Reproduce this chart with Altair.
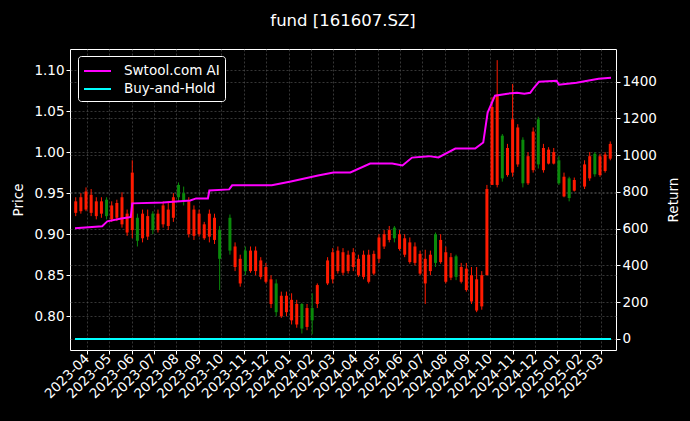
import altair as alt
import pandas as pd
import jinja2

# ---------------- data ----------------
week_start = "2023-03-17"   # weekly candles, Fridays
opens = [0.926, 0.928, 0.930, 0.926, 0.922, 0.925, 0.942, 0.918, 0.920, 0.912,
         0.902, 0.905, 0.920, 0.895, 0.897, 0.925, 0.905, 0.912, 0.910, 0.920,
         0.960, 0.950, 0.900, 0.898, 0.900, 0.895, 0.897, 0.893, 0.905, None,
         0.920, 0.860, 0.840, 0.880, 0.855, 0.855, 0.848, 0.842, 0.815, 0.840,
         0.800, 0.805, 0.795, 0.790, 0.815, 0.787, 0.810, 0.815, None, 0.840,
         0.845, 0.855, 0.853, 0.855, 0.860, 0.850, 0.848, 0.842, 0.852, 0.870,
         0.885, 0.893, 0.908, 0.882, 0.875, 0.866, 0.865, 0.852, 0.840, 0.855,
         0.900, 0.866, 0.842, 0.847, 0.873, 0.842, 0.832, 0.818, 0.807, 0.812,
         0.850, 0.960, 0.960, 1.020, 0.972, 0.975, 0.985, 1.015, 0.962, 0.978,
         1.040, 0.978, 0.986, 0.986, 0.990, 0.946, 0.968, 0.953, None, 0.958,
         0.968, 0.998, 0.972, 0.977, 0.992]
highs = [0.945, 0.950, 0.957, 0.955, 0.945, 0.945, 0.945, 0.940, 0.942, 0.951,
         0.930, 0.990, 0.925, 0.930, 0.930, 0.928, 0.930, 0.940, 0.940, 0.950,
         0.963, 0.958, 0.945, 0.935, 0.930, 0.915, 0.930, 0.925, 0.910, None,
         0.924, 0.890, 0.875, 0.885, 0.885, 0.885, 0.872, 0.865, 0.850, 0.845,
         0.830, 0.830, 0.828, 0.820, 0.816, 0.815, 0.828, 0.840, None, 0.872,
         0.883, 0.885, 0.883, 0.880, 0.883, 0.875, 0.880, 0.881, 0.880, 0.900,
         0.905, 0.910, 0.910, 0.905, 0.900, 0.896, 0.890, 0.880, 0.881, 0.880,
         0.902, 0.900, 0.885, 0.877, 0.875, 0.865, 0.865, 0.860, 0.860, 0.855,
         0.960, 1.067, 1.112, 1.022, 1.010, 1.083, 1.034, 1.018, 1.000, 1.030,
         1.043, 1.010, 1.006, 1.005, 0.995, 0.975, 0.970, 0.969, None, 0.990,
         1.000, 1.000, 0.998, 1.000, 1.013]
lows = [0.922, 0.925, 0.928, 0.922, 0.918, 0.920, 0.918, 0.915, 0.916, 0.908,
        0.898, 0.895, 0.885, 0.890, 0.893, 0.900, 0.902, 0.908, 0.905, 0.915,
        0.940, 0.935, 0.896, 0.893, 0.897, 0.893, 0.890, 0.888, 0.832, None,
        0.875, 0.855, 0.836, 0.850, 0.853, 0.850, 0.845, 0.840, 0.810, 0.800,
        0.798, 0.800, 0.790, 0.786, 0.779, 0.783, 0.778, 0.810, None, 0.838,
        0.840, 0.852, 0.850, 0.852, 0.855, 0.848, 0.845, 0.840, 0.850, 0.865,
        0.882, 0.890, 0.890, 0.880, 0.872, 0.864, 0.862, 0.850, 0.815, 0.850,
        0.860, 0.864, 0.840, 0.844, 0.844, 0.840, 0.830, 0.815, 0.805, 0.808,
        0.850, 0.960, 0.957, 0.964, 0.970, 0.970, 0.982, 0.957, 0.960, 0.975,
        0.980, 0.975, 0.985, 0.985, 0.960, 0.945, 0.940, 0.952, None, 0.955,
        0.965, 0.970, 0.970, 0.975, 0.990]
closes = [0.940, 0.945, 0.952, 0.948, 0.940, 0.940, 0.922, 0.935, 0.938, 0.945,
          0.925, 0.975, 0.892, 0.925, 0.922, 0.905, 0.925, 0.935, 0.930, 0.945,
          0.945, 0.940, 0.940, 0.930, 0.925, 0.912, 0.925, 0.920, 0.870, None,
          0.880, 0.885, 0.870, 0.855, 0.880, 0.880, 0.868, 0.860, 0.845, 0.805,
          0.825, 0.825, 0.820, 0.815, 0.785, 0.810, 0.795, 0.838, None, 0.868,
          0.878, 0.880, 0.878, 0.875, 0.878, 0.870, 0.875, 0.875, 0.876, 0.896,
          0.900, 0.905, 0.895, 0.900, 0.895, 0.890, 0.885, 0.876, 0.870, 0.875,
          0.865, 0.893, 0.878, 0.872, 0.848, 0.860, 0.858, 0.850, 0.845, 0.850,
          0.955, 1.055, 1.070, 0.968, 1.005, 1.040, 1.030, 0.962, 0.995, 1.025,
          0.985, 1.005, 1.003, 1.000, 0.962, 0.970, 0.944, 0.966, None, 0.985,
          0.995, 0.973, 0.995, 0.997, 1.010]

ai_dates = ["2023-03-16", "2023-04-22", "2023-04-25", "2023-04-29", "2023-05-18",
            "2023-05-29", "2023-05-31", "2023-06-02", "2023-07-14", "2023-08-20",
            "2023-08-28", "2023-09-13", "2023-09-15", "2023-10-12", "2023-10-16",
            "2023-12-09", "2024-01-04", "2024-02-10", "2024-03-02", "2024-03-25",
            "2024-04-21", "2024-05-21", "2024-06-04", "2024-06-17", "2024-07-10",
            "2024-07-23", "2024-08-15", "2024-09-11", "2024-09-22", "2024-09-28",
            "2024-10-08", "2024-10-25", "2024-11-07", "2024-11-17", "2024-11-25",
            "2024-11-30", "2024-12-07", "2024-12-31", "2025-01-03", "2025-01-27",
            "2025-02-26", "2025-03-15"]
ai_values = [602, 613, 625, 640, 656, 662, 664, 738, 743, 754,
             765, 765, 808, 814, 836, 836, 857, 890, 906, 906,
             955, 955, 944, 987, 995, 988, 1036, 1036, 1069, 1232,
             1324, 1335, 1340, 1335, 1340, 1367, 1400, 1405, 1384, 1394,
             1416, 1422]

bh_dates = ["2023-03-16", "2025-03-15"]
bh_values = [0, 0]

month_ticks = ["2023-04", "2023-05", "2023-06", "2023-07", "2023-08", "2023-09",
               "2023-10", "2023-11", "2023-12", "2024-01", "2024-02", "2024-03",
               "2024-04", "2024-05", "2024-06", "2024-07", "2024-08", "2024-09",
               "2024-10", "2024-11", "2024-12", "2025-01", "2025-02", "2025-03"]
price_ticks = [0.80, 0.85, 0.90, 0.95, 1.00, 1.05, 1.10]
return_ticks = [0, 200, 400, 600, 800, 1000, 1200, 1400]

# ---------------- tables ----------------
candles = pd.DataFrame({
    "date": pd.date_range(week_start, periods=len(opens), freq="7D"),
    "open": opens, "high": highs, "low": lows, "close": closes,
}).dropna()

lines = pd.concat([
    pd.DataFrame({"date": pd.to_datetime(ai_dates), "value": ai_values, "series": "Swtool.com AI"}),
    pd.DataFrame({"date": pd.to_datetime(bh_dates), "value": bh_values, "series": "Buy-and-Hold"}),
])

tick_dates = [alt.DateTime(year=int(m[:4]), month=int(m[5:]), date=1) for m in month_ticks]

FONT = "DejaVu Sans"
GRID = dict(grid=True, gridColor="#5a5a5a", gridDash=[2, 2], gridWidth=0.6)
AX = dict(labelColor="white", tickColor="white", titleColor="white", domain=False,
          labelFontSize=13.5, titleFontSize=13.5, titleFontWeight="normal",
          labelFont=FONT, titleFont=FONT, tickSize=4)

x_enc = alt.X("date:T",
              scale=alt.Scale(domain=["2023-03-16", "2025-03-15"]),
              axis=alt.Axis(values=tick_dates, format="%Y-%m", labelAngle=315,
                            labelAlign="right", labelBaseline="middle", title=None,
                            labelPadding=2, labelOverlap=False, labelBound=False,
                            labelFlush=False, **GRID, **AX))

price_scale = alt.Scale(domain=[0.7589, 1.1256], nice=False, zero=False)
price_axis = alt.Axis(title="Price", values=price_ticks, format=".2f",
                      titlePadding=8, **GRID, **AX)

color_cond = alt.condition("datum.close >= datum.open", alt.value("#ff1a00"), alt.value("#0a8a0a"))

wick = alt.Chart(candles).mark_rule(strokeWidth=1, clip=True).encode(
    x=x_enc,
    y=alt.Y("low:Q", scale=price_scale, axis=price_axis),
    y2="high:Q",
    color=color_cond,
)
body = alt.Chart(candles).mark_bar(size=3, clip=True).encode(
    x=x_enc,
    y=alt.Y("open:Q", scale=price_scale, axis=price_axis),
    y2="close:Q",
    color=color_cond,
)
price_layer = alt.layer(wick, body)

ret_layer = alt.Chart(lines).mark_line(strokeWidth=2).encode(
    x=x_enc,
    y=alt.Y("value:Q", scale=alt.Scale(domain=[-60, 1578], nice=False),
            axis=alt.Axis(title="Return", orient="right", values=return_ticks,
                          format="d", titleAngle=270, titleBaseline="top",
                          titlePadding=10, **GRID, **AX)),
    color=alt.Color("series:N",
                    scale=alt.Scale(domain=["Swtool.com AI", "Buy-and-Hold"],
                                    range=["#ff00ff", "#00ffff"]),
                    legend=alt.Legend(title=None, orient="none", legendX=8, legendY=7,
                                      symbolType="M-1,0H2", symbolSize=324,
                                      symbolStrokeWidth=2, labelColor="white",
                                      labelFontSize=13.5, labelFont=FONT, labelOffset=21,
                                      fillColor="black", strokeColor="white",
                                      cornerRadius=3, padding=5, rowPadding=1)),
)

chart = alt.layer(price_layer, ret_layer).resolve_scale(y="independent").properties(
    width=546, height=301,
    title=alt.TitleParams("fund [161607.SZ]", color="white", fontSize=16.5,
                          fontWeight="normal", font=FONT, offset=20, anchor="middle"),
    autosize=alt.AutoSizeParams(type="none"),
    padding={"left": 62, "top": 41, "right": 66, "bottom": 63},
    background="black",
).configure_view(stroke="white", strokeWidth=1).configure_axisX(labelOverlap=False)

# page template with the standard CDN scripts and a black page background
PAGE = jinja2.Template("""<!DOCTYPE html>
<html>
<head>
  <style>html, body { background: #000000; }</style>
  <script type="text/javascript" src="{{ base_url }}/vega@{{ vega_version }}"></script>
  <script type="text/javascript" src="{{ base_url }}/vega-lite@{{ vegalite_version }}"></script>
  <script type="text/javascript" src="{{ base_url }}/vega-embed@{{ vegaembed_version }}"></script>
</head>
<body>
  <div id="{{ output_div }}"></div>
  <script type="text/javascript">
    var spec = {{ spec }};
    var embedOpt = {{ embed_options }};
    vegaEmbed("#{{ output_div }}", spec, embedOpt);
  </script>
</body>
</html>
""")

try:
    chart.save("out.html", embed_options={"renderer": "svg", "actions": False}, template=PAGE)
except Exception:
    chart.save("out.html", embed_options={"renderer": "svg", "actions": False})
